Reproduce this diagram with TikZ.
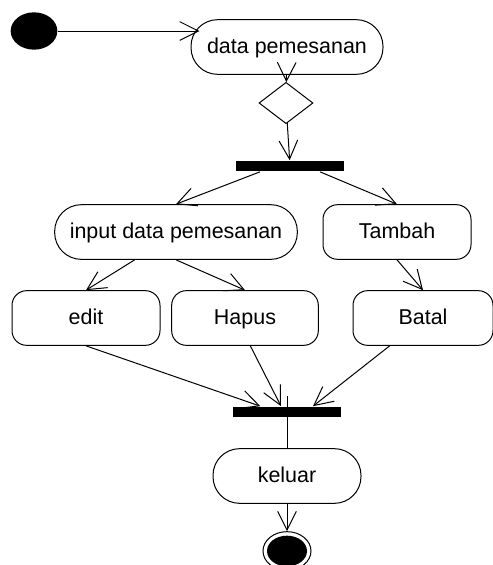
\documentclass[tikz,border=0pt]{standalone}
\usepackage{fontspec}
\setmainfont{Liberation Sans}
\usetikzlibrary{shapes.geometric,arrows.meta}

\tikzset{
  act/.style={draw, rectangle, rounded corners=11pt, minimum height=41pt,
    inner sep=0pt, text height=12pt, text depth=2pt, font=\fontsize{16.1}{19}\selectfont},
  pill/.style={act, rounded corners=20pt},
  bar/.style={rectangle, fill=black, minimum width=81pt, minimum height=8pt, inner sep=0pt},
  flow/.style={-{Straight Barb[length=14pt,width=14pt]}}
}

\begin{document}
\begin{tikzpicture}[x=0.75pt,y=0.75pt,yscale=-1,xscale=1,line width=0.75pt]
	\useasboundingbox (0,0) rectangle (493,565);
	% start and first activity
	\node[ellipse, fill=black, minimum width=35pt, minimum height=28pt, inner sep=0pt] (start) at (34,31) {};
	\node[pill, minimum width=144pt] (datapesan) at (287,47) {data pemesanan};
	\node[diamond, draw, minimum width=40.5pt, minimum height=31pt, inner sep=0pt] (cek) at (286,103) {};
	\node[bar] (fork) at (290,166) {};
	% activities
	\node[pill, minimum width=182pt] (input) at (176,232) {input data pemesanan};
	\node[act, minimum width=111pt] (tambah) at (397,232) {Tambah};
	\node[act, minimum width=111pt] (edit) at (86,318) {edit};
	\node[act, minimum width=110pt] (hapus) at (245,318) {Hapus};
	\node[act, minimum width=105pt] (batal) at (423,318) {Batal};
	\node[bar] (join) at (287,412) {};
	\node[pill, minimum width=111pt] (keluar) at (287,476) {keluar};
	% end
	\node[ellipse, draw, fill=white, minimum width=36pt, minimum height=29pt, inner sep=0pt] (stop) at (287,551) {};
	\node[ellipse, fill=black, minimum width=30pt, minimum height=23pt, inner sep=0pt] (stopdot) at (stop) {};
	\coordinate (jointop) at (287,396);
	% connectors
	\draw[flow] (start.east) -- ([xshift=6.75pt]datapesan.west |- start);
	\draw[flow] (datapesan) -- (cek);
	\draw[flow] (cek) -- (fork);
	\draw[flow] ([xshift=-22.5pt]fork.south) -- (input.north);
	\draw[flow] ([xshift=22.5pt]fork.south) -- (tambah.north);
	\draw[flow] ([xshift=-31pt]input.south) -- (edit.north);
	\draw[flow] (input.south) -- (hapus.north);
	\draw[flow] (tambah.south) -- (batal.north);
	\draw[flow] (edit.south) -- ([xshift=-20pt]join.north);
	\draw[flow] ([xshift=4pt]hapus.south) -- ([xshift=-4.5pt]join.north);
	\draw[flow] ([xshift=-25pt]batal.south) -- ([xshift=19.5pt]join.north);
	\draw (jointop) -- (keluar.north);
	\draw[flow] (keluar) -- (stop);
\end{tikzpicture}
\end{document}
